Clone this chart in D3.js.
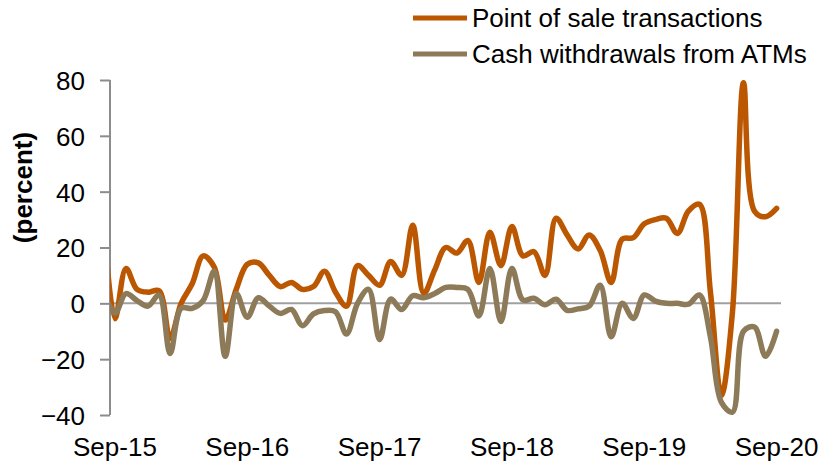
<!DOCTYPE html>
<html>
<head>
<meta charset="utf-8">
<script src="https://cdn.jsdelivr.net/npm/d3@7"></script>
<style>
  html, body { margin: 0; padding: 0; background: #fff; }
  svg text { font-family: "Liberation Sans", Arial, sans-serif; fill: #000; }
</style>
</head>
<body>
<div id="chart"></div>
<script>
// Monthly categories, Aug-15 .. Sep-20 (the Aug-15 point sits just left of the axis and is clipped)
const months = d3.timeMonth.range(new Date(2015, 7, 1), new Date(2020, 9, 1));

const seriesNames = ['Point of sale transactions', 'Cash withdrawals from ATMs'];
const seriesColors = ['#BB5700', '#8D7A58'];

const posValues = [
  28, -5.5, 12.5, 5, 4, 4.5, -12.5, 0, 7, 17, 13, -6, 5, 14, 14.5, 10,
  6, 7.5, 5, 6, 11.5, 4, -1, 13.5, 10, 6.5, 15, 10, 28, 3.5, 12, 20,
  18, 22.5, 7.5, 25.5, 13.5, 27.5, 17, 18.5, 10, 30.5, 24.5, 19.5, 24.5, 19, 7.5,
  23, 23.5, 28.5, 30, 30.5, 25, 33, 35.5, 4, -33, -3, 79, 33, 31, 34
];
const atmValues = [
  4, -3.5, 3.5, 1, -1, 3, -18, -1.8, -1.8, 1, 11.5, -19, 3.5, -5, 2, -1,
  -3.6, -2.2, -8, -3.8, -2.6, -3, -11, 0, 5, -13, 1.5, -2.2, 2.7, 2, 3.5, 5.7,
  5.7, 5, -4.5, 12.5, -6.5, 12.5, 1.2, 1.8, -0.5, 1.5, -2.5, -2, -1, 6.5, -12,
  0, -5.4, 3, 0.8, 0, 0, -0.3, 3, -12, -35.5, -39, -10, -8.5, -19, -10
];

const yTicks = [-40, -20, 0, 20, 40, 60, 80];
const yLabel = '(percent)';

const width = 826, height = 463;
const fmt = d3.timeFormat('%b-%y');

// index 0 = Sep-15
const x = d3.scaleLinear().domain([-0.45, 60.4]).range([110, 781]);
const y = d3.scaleLinear().domain([-40, 80]).range([415, 80]);

const svg = d3.select('#chart').append('svg')
  .attr('width', width)
  .attr('height', height);

svg.append('defs').append('clipPath')
  .attr('id', 'plot-clip')
  .append('rect')
  .attr('x', x.range()[0])
  .attr('y', 0)
  .attr('width', x.range()[1] - x.range()[0] + 10)
  .attr('height', height);

// Y axis
const yAxis = svg.append('g')
  .attr('transform', `translate(${x.range()[0]},0)`)
  .call(d3.axisLeft(y).tickValues(yTicks).tickSize(10).tickPadding(15).tickFormat(d3.format('d')));
yAxis.select('.domain').attr('stroke', '#8c8c8c').attr('stroke-width', 2)
  .attr('d', `M0,${y(80)}V${y(-40)}`);
yAxis.selectAll('.tick line').attr('stroke', '#8c8c8c').attr('stroke-width', 2);
yAxis.selectAll('.tick text')
  .style('font-size', '26px')
  .attr('dy', '0.36em');

svg.append('text')
  .attr('transform', `translate(32,${(y(80) + y(-40)) / 2 - 60}) rotate(-90)`)
  .attr('text-anchor', 'middle')
  .style('font-size', '26px')
  .style('font-weight', '700')
  .text(yLabel);

// Zero line (category axis)
svg.append('line')
  .attr('x1', x.range()[0]).attr('x2', x.range()[1])
  .attr('y1', y(0)).attr('y2', y(0))
  .attr('stroke', '#a0a0a0')
  .attr('stroke-width', 2);

// X labels every September
const labelIdx = months.map((m, i) => i).filter(i => months[i].getMonth() === 8);
svg.append('g')
  .selectAll('text')
  .data(labelIdx)
  .join('text')
  .attr('x', i => x(i - 1))
  .attr('y', 456)
  .attr('text-anchor', 'middle')
  .style('font-size', '26px')
  .text(i => fmt(months[i]));

// Lines
const line = d3.line()
  .x((d, i) => x(i - 1))
  .y(d => y(d))
  .curve(d3.curveCatmullRom);

const plot = svg.append('g').attr('clip-path', 'url(#plot-clip)');
[posValues, atmValues].forEach((vals, k) => {
  plot.append('path')
    .datum(vals)
    .attr('fill', 'none')
    .attr('stroke', seriesColors[k])
    .attr('stroke-width', 5.5)
    .attr('stroke-linejoin', 'round')
    .attr('stroke-linecap', 'round')
    .attr('d', line);
});

// Legend
const legend = svg.append('g');
seriesNames.forEach((name, k) => {
  const ly = 18 + k * 36;
  legend.append('line')
    .attr('x1', 413).attr('x2', 467)
    .attr('y1', ly).attr('y2', ly)
    .attr('stroke', seriesColors[k])
    .attr('stroke-width', 5);
  legend.append('text')
    .attr('x', 472)
    .attr('y', ly + 9)
    .style('font-size', '26px')
    .text(name);
});
</script>
</body>
</html>
